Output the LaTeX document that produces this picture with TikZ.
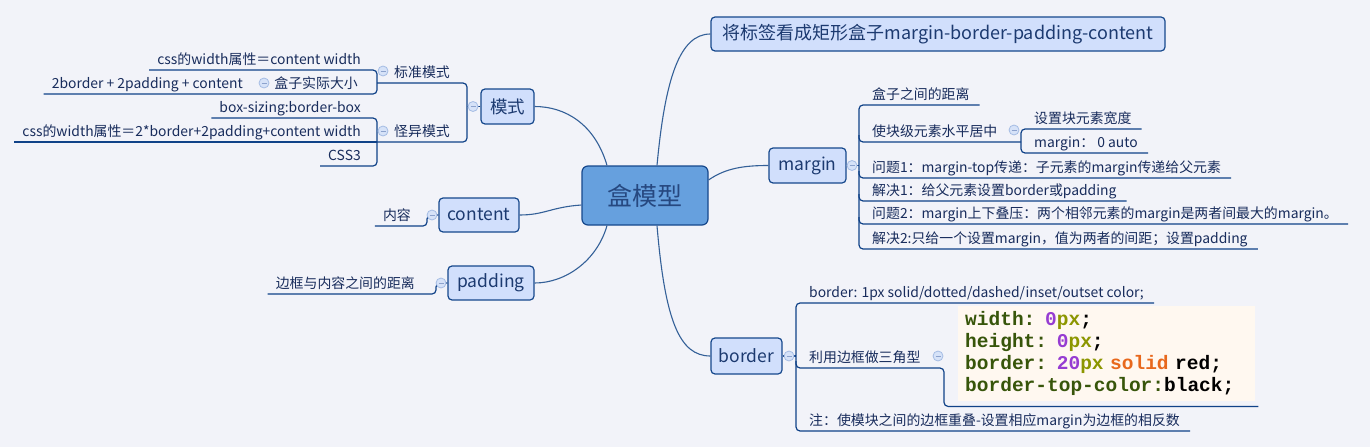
\documentclass[tikz,border=0pt]{standalone}
\usepackage{fontspec}
\setmainfont{Noto Sans CJK SC}
\newfontfamily\codefont{Liberation Mono}
\usetikzlibrary{calc}
\definecolor{bgcol}{RGB}{242,243,249}
\definecolor{nodefill}{RGB}{209,223,252}
\definecolor{nodeline}{RGB}{22,72,140}
\definecolor{rootfill}{RGB}{102,160,222}
\definecolor{roottext}{RGB}{38,72,128}
\definecolor{nodetext}{RGB}{28,58,112}
\definecolor{leaftext}{RGB}{24,44,92}
\definecolor{leafline}{RGB}{16,66,136}
\definecolor{trunkline}{RGB}{52,96,152}
\definecolor{togfill}{RGB}{214,226,248}
\definecolor{togline}{RGB}{165,188,228}
\definecolor{togdash}{RGB}{140,162,205}
\definecolor{codebg}{RGB}{255,248,240}
\definecolor{codegreen}{RGB}{55,85,10}
\definecolor{codepurple}{RGB}{150,60,210}
\definecolor{codeolive}{RGB}{140,150,0}
\definecolor{codeorange}{RGB}{232,104,28}
\newcommand*{\leafsize }{\fontsize{13.9}{16}\selectfont}
\newcommand*{\topicsize}{\fontsize{17.5}{20}\selectfont}
\newcommand*{\rootsize }{\fontsize{25}{30}\selectfont}
\newcommand*{\codesize }{\fontsize{19.5}{22}\selectfont}
\newcommand*{\cpro }[1]{\textcolor{codegreen}{#1}}
\newcommand*{\cnum }[1]{\textcolor{codepurple}{#1}}
\newcommand*{\cunit}[1]{\textcolor{codeolive}{#1}}
\newcommand*{\ckey }[1]{\textcolor{codeorange}{#1}}
\tikzset{
    root/.style={draw=nodeline, fill=rootfill, line width=1.2pt, rounded corners=6pt,
        minimum width=126pt, minimum height=59pt, text=roottext, font=\rootsize},
    topic/.style={draw=nodeline, fill=nodefill, line width=1.2pt, rounded corners=4pt,
        minimum height=35pt, inner xsep=7pt, text=nodetext, font=\topicsize},
    leaf/.style={inner xsep=8pt, inner ysep=3pt, text depth=2pt, text=leaftext, font=\leafsize},
    rleaf/.style={leaf, inner xsep=10pt, anchor=south west},
    lleaf/.style={leaf, anchor=south east},
    codebox/.style={fill=codebg, anchor=north west, inner xsep=7pt, text width=283pt,
        minimum height=95pt, align=left, font=\codefont\bfseries\codesize},
    toggle/.style={circle, draw=togline, fill=togfill, line width=0.8pt, minimum size=10pt,
        inner sep=0pt, path picture={\draw[togdash, line width=1pt]
        ([xshift=-2.5pt]path picture bounding box.center) -- ([xshift=2.5pt]path picture bounding box.center);}},
    trunk/.style={draw=trunkline, line width=1.1pt},
    twig/.style={draw=leafline, line width=1.2pt, rounded corners=4pt},
}

\begin{document}
\begin{tikzpicture}[x=1pt, y=-1pt]
    \fill[bgcol] (0,0) rectangle (1370,447);
    \useasboundingbox (0,0) rectangle (1370,447);

    % main topics
    \node [root] (root) at (645,195.5) {盒模型};
    \node [topic, minimum width=454pt, minimum height=34pt, font=\fontsize{18}{21}\selectfont] (tag) at (938,34) {将标签看成矩形盒子margin-border-padding-content};
    \node [topic, minimum width=53pt] (ms) at (507.5,106.5) {模式};
    \node [topic, minimum width=80pt, minimum height=34pt] (ct) at (479,215) {content};
    \node [topic, minimum width=86pt, minimum height=34pt] (pd) at (491,283) {padding};
    \node [topic, minimum width=77pt] (mg) at (807.5,165.5) {margin};
    \node [topic, minimum width=71pt, minimum height=36pt] (bd) at (746.5,356) {border};

    \draw [trunk] ([xshift=12pt]root.north) .. controls +(8,-86) and +(-31,0) .. (tag.west);
    \draw [trunk] ([xshift=-38pt]root.north) .. controls +(-12,-41) and +(31,0) .. (ms.east);
    \draw [trunk] ([yshift=15.5pt]root.east) .. controls +(17,-12) and +(-24,0) .. (mg.west);
    \draw [trunk] ([xshift=12pt]root.south) .. controls +(8,95) and +(-31,0) .. (bd.west);
    \draw [trunk] ([xshift=-38pt]root.south) .. controls +(-10,35) and +(31,0) .. (pd.east);
    \draw [trunk] ([yshift=-9.5pt]root.west) .. controls +(-30,2) and +(25,0) .. (ct.east);

    % 模式
    \node [lleaf] (bz)  at (458,83)  {标准模式};
    \node [lleaf] (gy)  at (458,142) {怪异模式};
    \node [lleaf] (bz1) at (369,70)  {css的width属性＝content width};
    \node [lleaf] (hz)  at (366,94)  {盒子实际大小};
    \node [lleaf] (hzc) at (251,94)  {2border + 2padding + content};
    \node [lleaf] (gy1) at (369,118) {box-sizing:border-box};
    \node [lleaf] (gy2) at (369,142) {css的width属性＝2*border+2padding+content width};
    \node [lleaf] (gy3) at (369,166) {CSS3};
    \coordinate (msb) at (467,106.5);
    \coordinate (bzb) at (377,83);
    \coordinate (gyb) at (377,142);
    \draw [twig] (ms.west) -- (msb);
    \draw [twig] (bzb) -| (msb) |- (gyb);
    \draw [twig] (bz1.south west) -| (bzb) |- (hzc.south west);
    \draw [twig] (gy1.south west) -| (gyb) |- (gy3.south west);
    \draw [twig] (gyb) -- (gy2.south west);

    % content, padding
    \node [lleaf] (nr) at (419,226) {内容};
    \node [lleaf] (nd) at (423,294) {边框与内容之间的距离};
    \coordinate (ctb) at (427,215);
    \coordinate (pdb) at (436,283);
    \draw [twig] (nr.south west) -| (ctb) -- (ct.west);
    \draw [twig] (nd.south west) -| (pdb) -- (pd.west);

    % margin
    \node [rleaf] (m1)  at (862,105)  {盒子之间的距离};
    \node [rleaf] (m2)  at (862,142)  {使块级元素水平居中};
    \node [rleaf] (m21) at (1024,129) {设置块元素宽度};
    \node [rleaf] (m22) at (1024,153) {margin：\ 0 auto};
    \node [rleaf] (m3)  at (862,178)  {问题1：margin-top传递：子元素的margin传递给父元素};
    \node [rleaf] (m4)  at (862,201)  {解决1：给父元素设置border或padding};
    \node [rleaf] (m5)  at (862,224)  {问题2：margin上下叠压：两个相邻元素的margin是两者间最大的margin。};
    \node [rleaf] (m6)  at (862,249)  {解决2:只给一个设置margin，值为两者的间距；设置padding};
    \coordinate (mgb) at (859,165.5);
    \coordinate (m2b) at (1021,142);
    \draw [twig] (mg.east) -- (mgb);
    \draw [twig] (m1.south east) -| (mgb) |- (m6.south east);
    \draw [twig] ($(mgb |- m2.south)+(0,-7)$) |- (m2b);
    \draw [twig] ($(mgb |- m3.south)+(0,-7)$) |- (m3.south east);
    \draw [twig] ($(mgb |- m4.south)+(0,-7)$) |- (m4.south east);
    \draw [twig] ($(mgb |- m5.south)+(0,-7)$) |- (m5.south east);
    \draw [twig] (m21.south east) -| (m2b) |- (m22.south east);

    % border
    \node [rleaf] (b1) at (799,303) {border: 1px solid/dotted/dashed/inset/outset color;};
    \node [rleaf] (b2) at (799,368) {利用边框做三角型};
    \node [rleaf] (b3) at (799,431) {注：使模块之间的边框重叠-设置相应margin为边框的相反数};
    \node [codebox] (code) at (958,306) {%
        \cpro{width:} \cnum{0}\cunit{px};\\
        \cpro{height:} \cnum{0}\cunit{px};\\
        \cpro{border:} \cnum{20}\cunit{px} \ckey{solid} red;\\
        \cpro{border-top-color:}black;};
    \coordinate (bdb) at (796,356);
    \coordinate (b2t) at (944,368);
    \draw [twig] (bd.east) -- (bdb);
    \draw [twig] (b1.south east) -| (bdb) |- (b3.south east);
    \draw [twig] ($(bdb |- b2.south)+(0,-7)$) |- (b2t) |- ($(code.south east)+(3,5)$);

    % collapse markers
    \node [toggle] (msk) at (473,106.5) {};
    \node [toggle] (bzk) at (383,71)    {};
    \node [toggle] (gyk) at (383,131)   {};
    \node [toggle] (hzk) at (264,83)    {};
    \node [toggle] (ctk) at (432,215)   {};
    \node [toggle] (pdk) at (441,283)   {};
    \node [toggle] (mgk) at (852,165.5) {};
    \node [toggle] (m2k) at (1014,130)  {};
    \node [toggle] (bdk) at (789,356)   {};
    \node [toggle] (b2k) at (938,356)   {};
\end{tikzpicture}
\end{document}
